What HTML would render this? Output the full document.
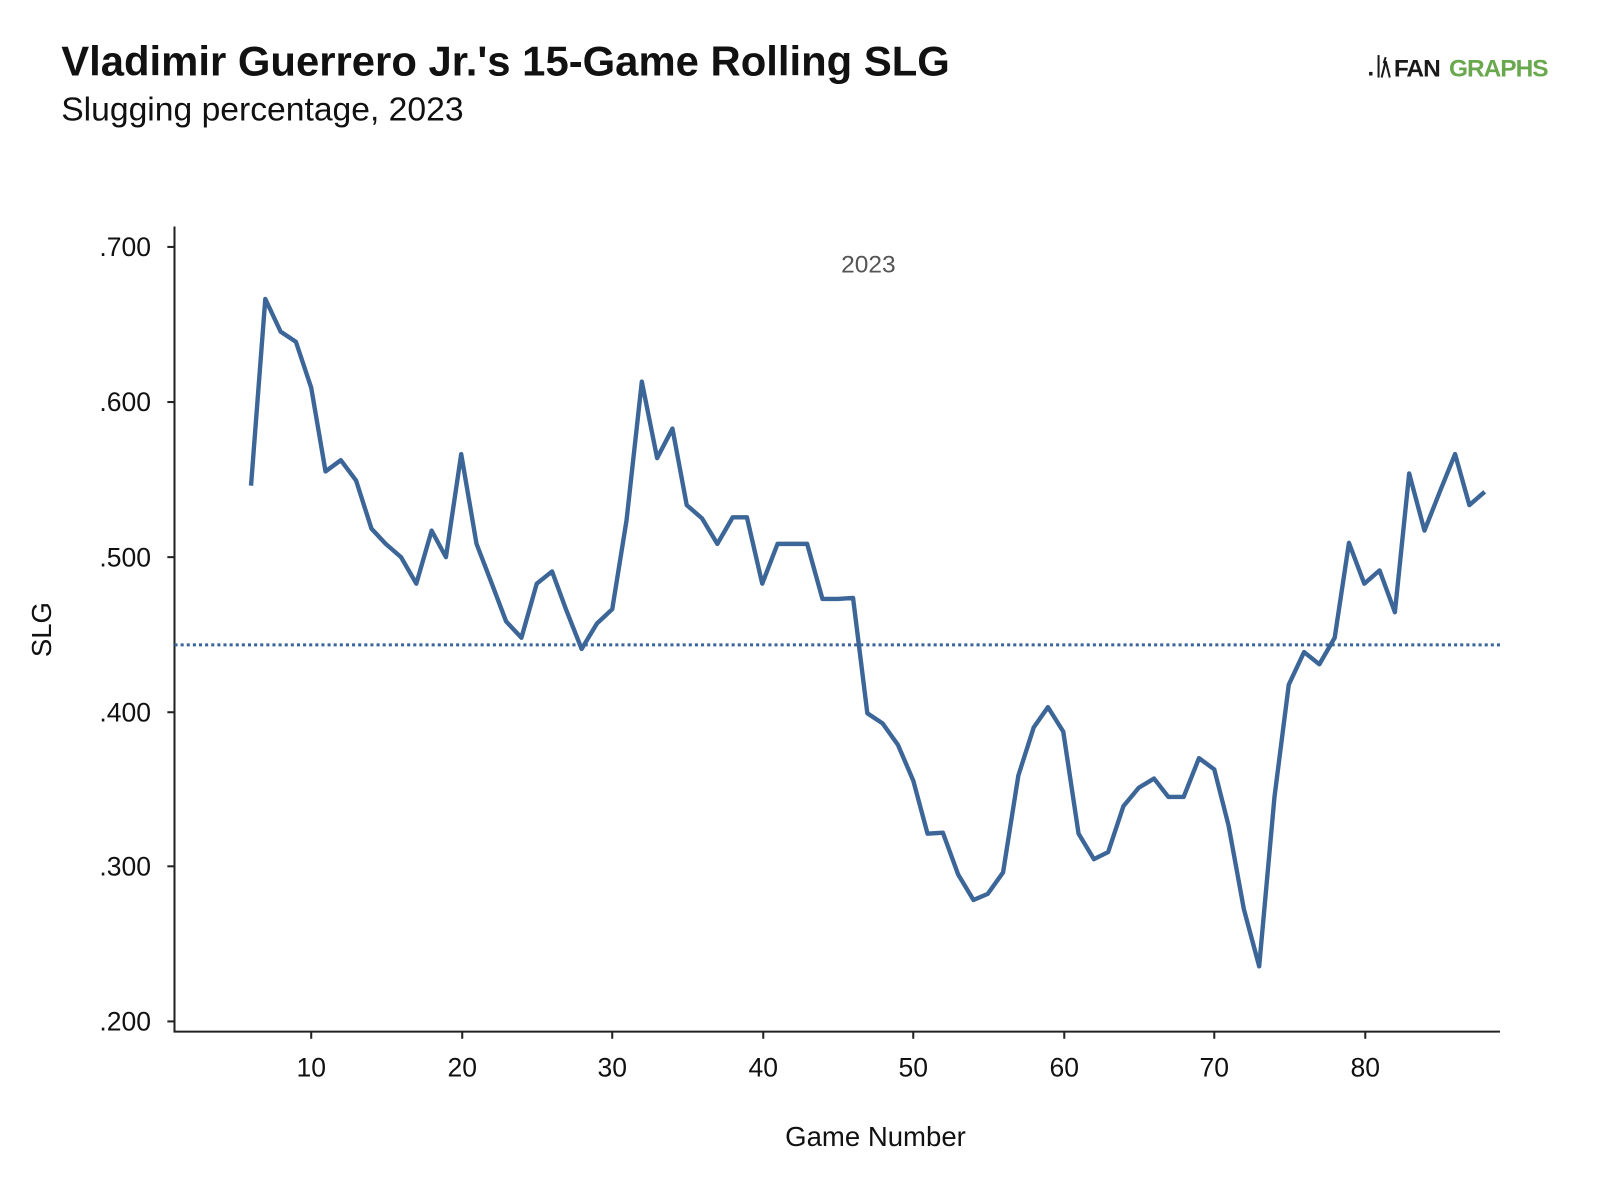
<!DOCTYPE html>
<html><head><meta charset="utf-8"><style>
body{margin:0;background:#fff;}
svg text{font-family:"Liberation Sans",sans-serif;}
</style></head><body>
<svg width="1600" height="1178" viewBox="0 0 1600 1178" xmlns="http://www.w3.org/2000/svg">
<rect width="1600" height="1178" fill="#fff"/>
<g transform="scale(1.0204)">
<text x="60" y="74" font-size="41" font-weight="bold" fill="#111">Vladimir Guerrero Jr.'s 15-Game Rolling SLG</text>
<text x="60" y="118" font-size="33" fill="#111">Slugging percentage, 2023</text>
<g font-size="24" font-weight="bold">
<text x="1340" y="74" fill="#1a1a1a">.</text>
<rect x="1350" y="54" width="2" height="22" fill="#1a1a1a"/>
<path d="M1354 76 L1358 60 L1362 76 M1356 62 l2 -6" stroke="#1a1a1a" stroke-width="2" fill="none"/>
<text x="1366" y="75" fill="#1a1a1a" letter-spacing="-1">FAN</text>
<text x="1420" y="75" fill="#6aa84f" letter-spacing="-1">GRAPHS</text>
</g>
<text x="851" y="267" font-size="24" fill="#555" text-anchor="middle">2023</text>
<line x1="171" y1="222" x2="171" y2="1011" stroke="#222" stroke-width="2"/>
<line x1="170" y1="1011" x2="1470" y2="1011" stroke="#222" stroke-width="2"/>
<g stroke="#222" stroke-width="2">
<line x1="164" y1="242" x2="171" y2="242"/><line x1="164" y1="394" x2="171" y2="394"/><line x1="164" y1="546" x2="171" y2="546"/><line x1="164" y1="698" x2="171" y2="698"/><line x1="164" y1="849" x2="171" y2="849"/><line x1="164" y1="1001" x2="171" y2="1001"/>
<line x1="305" y1="1011" x2="305" y2="1018"/><line x1="453" y1="1011" x2="453" y2="1018"/><line x1="600" y1="1011" x2="600" y2="1018"/><line x1="748" y1="1011" x2="748" y2="1018"/><line x1="895" y1="1011" x2="895" y2="1018"/><line x1="1043" y1="1011" x2="1043" y2="1018"/><line x1="1190" y1="1011" x2="1190" y2="1018"/><line x1="1338" y1="1011" x2="1338" y2="1018"/>
</g>
<g font-size="26" fill="#111" text-anchor="end">
<text x="148" y="251">.700</text><text x="148" y="403">.600</text><text x="148" y="555">.500</text><text x="148" y="707">.400</text><text x="148" y="858">.300</text><text x="148" y="1010">.200</text>
</g>
<g font-size="26" fill="#111" text-anchor="middle">
<text x="305" y="1055">10</text><text x="453" y="1055">20</text><text x="600" y="1055">30</text><text x="748" y="1055">40</text><text x="895" y="1055">50</text><text x="1043" y="1055">60</text><text x="1190" y="1055">70</text><text x="1338" y="1055">80</text>
</g>
<text x="858" y="1123" font-size="27" fill="#111" text-anchor="middle">Game Number</text>
<text transform="translate(50,617) rotate(-90)" font-size="27" fill="#111" text-anchor="middle">SLG</text>
<line x1="171" y1="632" x2="1470" y2="632" stroke="#3a6599" stroke-width="3" stroke-dasharray="3,3"/>
<polyline fill="none" stroke="#3d6698" stroke-width="4.3" stroke-linejoin="round" points="246,476 260,293 275,325 290,335 305,380 319,462 334,451 349,471 364,518 378,533 393,546 408,572 423,520 437,546 452,445 467,533 482,572 496,609 511,625 526,572 541,560 555,598 570,636 585,611 600,597 614,510 629,374 644,449 659,420 673,495 688,508 703,533 718,507 732,507 747,572 762,533 777,533 791,533 806,587 821,587 836,586 850,699 865,709 880,730 895,765 909,817 924,816 939,857 954,882 968,876 983,855 998,760 1013,713 1027,693 1042,717 1057,817 1072,842 1086,835 1101,790 1116,772 1131,763 1145,781 1160,781 1175,743 1190,754 1204,809 1219,891 1234,947 1249,781 1263,671 1278,639 1293,651 1308,625 1322,532 1337,572 1352,559 1367,600 1381,464 1396,520 1411,482 1426,445 1440,495 1455,482"/>
</g>
</svg>
</body></html>
